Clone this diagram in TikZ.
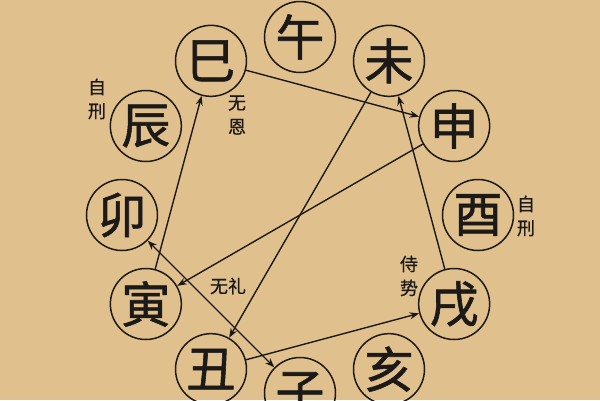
\documentclass[tikz,border=0pt]{standalone}
\usepackage{fontspec}
\newfontfamily\cjk[FakeBold=1.2]{Noto Sans CJK SC}
\newfontfamily\cjknote[FakeBold=0.6]{Noto Sans CJK SC}
\usetikzlibrary{arrows.meta}
\definecolor{paper}{RGB}{224,192,140}
\definecolor{ink}{RGB}{28,26,24}
\begin{document}
\begin{tikzpicture}[x=1pt,y=1pt,>={Stealth[length=9.5pt,width=7pt]}]
	\tikzstyle{zhi} = [circle,draw=ink,line width=1.5pt,minimum size=71pt,inner sep=0pt,text=ink,font=\cjk\fontsize{49}{49}\selectfont]
	\tikzstyle{note} = [text=ink,align=center,inner sep=0pt,font=\cjknote\fontsize{18}{24}\selectfont]
	\tikzstyle{link} = [draw=ink,line width=1.4pt]

		\useasboundingbox (-300,-185) rectangle (300,215);
		\fill[paper] (-300,-185) rectangle (300,215);
		\clip (-300,-185) rectangle (300,215);

		% the twelve branches
		\node[zhi] (wu) at (90:178){午};
		\node[zhi] (wei) at (60:178){未};
		\node[zhi] (shen) at (30:178){申};
		\node[zhi] (you) at (0:178){酉};
		\node[zhi] (xu) at (-30:178){戌};
		\node[zhi] (hai) at (-60:178){亥};
		\node[zhi] (zi) at (-90:178){子};
		\node[zhi] (chou) at (-120:178){丑};
		\node[zhi] (yin) at (-150:178){寅};
		\node[zhi] (mao) at (180:178){卯};
		\node[zhi] (chen) at (150:178){辰};
		\node[zhi] (si) at (120:178){巳};

		\node[note] (zixingA) at (-203,116){自\\刑};
		\node[note] (wuen) at (-63,100){无\\恩};
		\node[note] (wuli) at (-72,-71){无礼};
		\node[note] (shishi) at (109,-61){侍\\势};
		\node[note] (zixingB) at (226,-1){自\\刑};

		\draw[link,->](si) -- (shen);
		\draw[link,->](shen) -- (yin);
		\draw[link,->](yin) -- (si);
		\draw[link,->](wei) -- (chou);
		\draw[link,->](chou) -- (xu);
		\draw[link,->](xu) -- (wei);
		\draw[link,<->](mao) -- (zi);
\end{tikzpicture}
\end{document}
